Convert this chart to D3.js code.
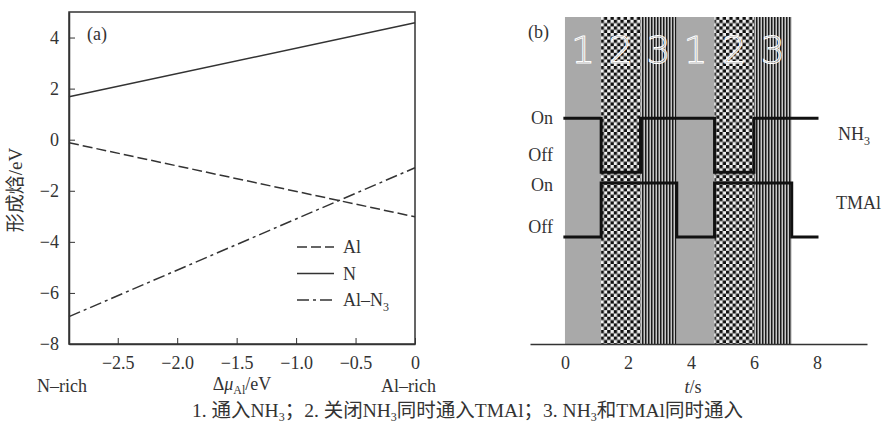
<!DOCTYPE html>
<html lang="zh">
<head>
<meta charset="UTF-8">
<title>Formation enthalpy and pulse sequence</title>
<script src="https://d3js.org/d3.v7.min.js"></script>
<style>
  body { margin: 0; background: #fff; }
  text { font-family: "Liberation Serif", "Noto Sans CJK SC", serif; fill: #333; }
  .axis text { font-size: 18px; fill: #333; }
  .axis path, .axis line { stroke: #333; }
</style>
</head>
<body>
<svg id="svg" width="883" height="425"></svg>
<script>
  // ---- panel (a) data ----
  const muEnds = [-2.91, 0];
  const alVals = [-0.12, -3.02];
  const nVals = [1.68, 4.58];
  const alN3Vals = [-6.93, -1.1];
  const aXTicks = [-2.5, -2.0, -1.5, -1.0, -0.5, 0];
  const aYTicks = [4, 2, 0, -2, -4, -6, -8];
  const legendNames = ["Al", "N", "Al-N3"];

  // ---- panel (b) data ----
  const phaseBounds = [0, 1.15, 2.4, 3.55, 4.75, 6.0, 7.2];
  const phaseTypes = [1, 2, 3, 1, 2, 3];
  const nh3Times = [-0.05, 1.15, 2.4, 4.75, 6.0, 8.05];
  const nh3States = [1, 0, 1, 0, 1];
  const tmalTimes = [-0.05, 1.15, 3.55, 4.75, 7.2, 8.05];
  const tmalStates = [0, 1, 0, 1, 0];
  const bXTicks = [0, 2, 4, 6, 8];

  const svg = d3.select("#svg");

  // ===== panel (a) =====
  const xA = d3.scaleLinear().domain([-2.91, 0]).range([69, 415]);
  const yA = d3.scaleLinear().domain([-8, 5]).range([344, 12]);
  const gA = svg.append("g");

  gA.append("rect")
    .attr("x", xA.range()[0]).attr("y", yA.range()[1])
    .attr("width", xA.range()[1] - xA.range()[0])
    .attr("height", yA.range()[0] - yA.range()[1])
    .attr("fill", "none").attr("stroke", "#333").attr("stroke-width", 1.5);

  gA.append("g").attr("class", "axis")
    .attr("transform", `translate(0,${yA.range()[0]})`)
    .call(d3.axisBottom(xA).tickValues(aXTicks).tickSizeInner(-6).tickSizeOuter(0).tickPadding(12)
      .tickFormat(d => d === 0 ? "0" : d3.format(".1f")(d).replace("-", "\u2212")))
    .call(g => g.select(".domain").attr("stroke-width", 1.5));

  gA.append("g").attr("class", "axis")
    .attr("transform", `translate(${xA.range()[0]},0)`)
    .call(d3.axisLeft(yA).tickValues(aYTicks).tickSizeInner(-6).tickSizeOuter(0).tickPadding(10)
      .tickFormat(d => String(d).replace("-", "\u2212")))
    .call(g => g.select(".domain").attr("stroke-width", 1.5));

  const lineA = d3.line().x(d => xA(d[0])).y(d => yA(d[1]));
  const seriesA = [
    { vals: alVals, dash: "10,4" },
    { vals: nVals, dash: null },
    { vals: alN3Vals, dash: "12,4,3,4" }
  ];
  seriesA.forEach(s => {
    gA.append("path")
      .datum(muEnds.map((m, i) => [m, s.vals[i]]))
      .attr("d", lineA)
      .attr("fill", "none").attr("stroke", "#333").attr("stroke-width", 1.5)
      .attr("stroke-dasharray", s.dash);
  });

  // legend
  const leg = gA.append("g").attr("transform", "translate(297,247)");
  legendNames.forEach((name, i) => {
    const row = leg.append("g").attr("transform", `translate(0,${i * 26.5})`);
    row.append("line").attr("x1", 0).attr("x2", 37).attr("y1", 0).attr("y2", 0)
      .attr("stroke", "#333").attr("stroke-width", 1.5)
      .attr("stroke-dasharray", seriesA[i].dash);
    const t = row.append("text").attr("x", 46).attr("y", 6).attr("font-size", 18);
    if (name === "Al-N3") {
      t.append("tspan").text("Al\u2013N");
      t.append("tspan").attr("font-size", 12).attr("dy", 5).text("3");
    } else {
      t.text(name);
    }
  });

  gA.append("text").attr("x", 87).attr("y", 40).attr("font-size", 18).text("(a)");
  gA.append("text")
    .attr("transform", "translate(22,190) rotate(-90)")
    .attr("text-anchor", "middle").attr("font-size", 19).text("形成焓/eV");
  const xl = gA.append("text").attr("x", 242).attr("y", 390).attr("text-anchor", "middle").attr("font-size", 18);
  xl.append("tspan").text("\u0394");
  xl.append("tspan").attr("font-style", "italic").text("\u03bc");
  xl.append("tspan").attr("font-size", 12).attr("dy", 4).text("Al");
  xl.append("tspan").attr("dy", -4).text("/eV");
  gA.append("text").attr("x", 37).attr("y", 392).attr("font-size", 18).text("N\u2013rich");
  gA.append("text").attr("x", 381).attr("y", 392).attr("font-size", 18).text("Al\u2013rich");

  // ===== panel (b) =====
  const xB = d3.scaleLinear().domain([-1.11, 9.59]).range([530, 867]);
  const yB = d3.scaleLinear().domain([0, 1]).range([237, 183]);
  const nh3Offset = 1.2;
  const bandTop = 17, bandBottom = 344;
  const gB = svg.append("g");

  const defs = svg.append("defs");
  const chk = defs.append("pattern").attr("id", "checker")
    .attr("patternUnits", "userSpaceOnUse").attr("width", 6.6).attr("height", 6.6);
  chk.append("rect").attr("width", 6.6).attr("height", 6.6).attr("fill", "#f0f0f0");
  chk.append("rect").attr("width", 3.3).attr("height", 3.3).attr("fill", "#111");
  chk.append("rect").attr("x", 3.3).attr("y", 3.3).attr("width", 3.3).attr("height", 3.3).attr("fill", "#111");
  const stp = defs.append("pattern").attr("id", "stripes")
    .attr("patternUnits", "userSpaceOnUse").attr("width", 3).attr("height", 6);
  stp.append("rect").attr("width", 3).attr("height", 6).attr("fill", "#c8c8c8");
  stp.append("rect").attr("width", 1.5).attr("height", 6).attr("fill", "#1a1a1a");

  const fills = { 1: "#a9a9a9", 2: "url(#checker)", 3: "url(#stripes)" };
  gB.selectAll("rect.band")
    .data(phaseTypes)
    .join("rect").attr("class", "band")
    .attr("x", (d, i) => xB(phaseBounds[i]))
    .attr("width", (d, i) => xB(phaseBounds[i + 1] || 7.2) - xB(phaseBounds[i]))
    .attr("y", bandTop).attr("height", bandBottom - bandTop)
    .attr("fill", d => fills[d]);

  gB.selectAll("text.phase")
    .data(phaseTypes)
    .join("text").attr("class", "phase")
    .attr("x", (d, i) => (xB(phaseBounds[i]) + xB(phaseBounds[i + 1] || 7.2)) / 2)
    .attr("y", 63)
    .attr("text-anchor", "middle")
    .style("font-family", "'DejaVu Sans', sans-serif")
    .style("font-size", "38px").style("font-weight", 200)
    .style("fill", "#999").style("fill-opacity", 0.5)
    .style("stroke", "#fff").style("stroke-width", 1)
    .text(d => d);

  const stepLine = d3.line().curve(d3.curveStepAfter);
  function stepPoints(times, states, offset) {
    const pts = states.map((s, i) => [xB(times[i]), yB(s + offset)]);
    pts.push([xB(times[times.length - 1]), yB(states[states.length - 1] + offset)]);
    return pts;
  }
  [[nh3Times, nh3States, nh3Offset], [tmalTimes, tmalStates, 0]].forEach(([t, s, o]) => {
    gB.append("path").attr("d", stepLine(stepPoints(t, s, o)))
      .attr("fill", "none").attr("stroke", "#111").attr("stroke-width", 3);
  });

  gB.append("g").attr("class", "axis")
    .attr("transform", `translate(0,${bandBottom})`)
    .call(d3.axisBottom(xB).tickValues(bXTicks).tickSize(0).tickPadding(12))
    .call(g => g.select(".domain").attr("stroke-width", 1.5));

  const onOff = [["On", 118], ["Off", 155], ["On", 185], ["Off", 227]];
  onOff.forEach(([txt, y]) => {
    gB.append("text").attr("x", 553).attr("y", y + 6).attr("text-anchor", "end")
      .attr("font-size", 18).text(txt);
  });
  const nh = gB.append("text").attr("x", 838).attr("y", 140).attr("font-size", 18);
  nh.append("tspan").text("NH");
  nh.append("tspan").attr("font-size", 12).attr("dy", 5).text("3");
  gB.append("text").attr("x", 836).attr("y", 209).attr("font-size", 18).text("TMAl");
  gB.append("text").attr("x", 528).attr("y", 38).attr("font-size", 18).text("(b)");
  const tl = gB.append("text").attr("x", 693).attr("y", 393).attr("text-anchor", "middle").attr("font-size", 18);
  tl.append("tspan").attr("font-style", "italic").text("t");
  tl.append("tspan").text("/s");

  // caption
  const cap = svg.append("text").attr("x", 192).attr("y", 417).attr("font-size", 19.5);
  cap.append("tspan").text("1. 通入NH");
  cap.append("tspan").attr("font-size", 12).attr("dy", 4).text("3");
  cap.append("tspan").attr("dy", -4).text("；2. 关闭NH");
  cap.append("tspan").attr("font-size", 12).attr("dy", 4).text("3");
  cap.append("tspan").attr("dy", -4).text("同时通入TMAl；3. NH");
  cap.append("tspan").attr("font-size", 12).attr("dy", 4).text("3");
  cap.append("tspan").attr("dy", -4).text("和TMAl同时通入");
</script>
</body>
</html>
